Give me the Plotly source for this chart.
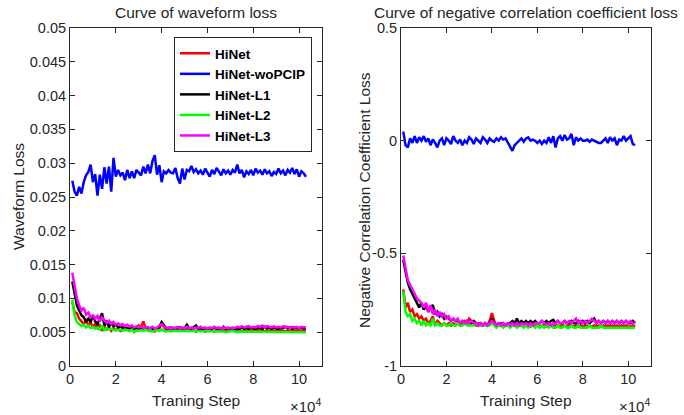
import plotly.graph_objects as go

steps = [k * 1000 for k in range(1, 104)]

# ---- waveform loss (left) ----
wave_hinet = [
    0.0095, 0.0080, 0.0078, 0.0070, 0.0066, 0.0062, 0.0068, 0.0060, 0.0064, 0.0058,
    0.0062, 0.0056, 0.0060, 0.0052, 0.0058, 0.0054, 0.0057, 0.0052, 0.0056, 0.0053,
    0.0055, 0.0052, 0.0054, 0.0053, 0.0055, 0.0052, 0.0054, 0.0055, 0.0053, 0.0060,
    0.0058, 0.0066, 0.0056, 0.0054, 0.0052, 0.0055, 0.0051, 0.0054, 0.0056, 0.0062,
    0.0057, 0.0053, 0.0055, 0.0052, 0.0054, 0.0053, 0.0055, 0.0052, 0.0054, 0.0053,
    0.0055, 0.0052, 0.0054, 0.0053, 0.0051, 0.0054, 0.0052, 0.0053, 0.0051, 0.0053,
    0.0052, 0.0053, 0.0051, 0.0053, 0.0052, 0.0054, 0.0052, 0.0053, 0.0052, 0.0053,
    0.0052, 0.0054, 0.0052, 0.0053, 0.0051, 0.0053, 0.0052, 0.0053, 0.0052, 0.0054,
    0.0052, 0.0053, 0.0052, 0.0053, 0.0051, 0.0053, 0.0052, 0.0053, 0.0052, 0.0053,
    0.0052, 0.0053, 0.0052, 0.0051, 0.0053, 0.0052, 0.0053, 0.0052, 0.0053, 0.0052,
    0.0052, 0.0053, 0.0052]
wave_wopcip = [
    0.0274, 0.0258, 0.0252, 0.0265, 0.0255, 0.0272, 0.0282, 0.0287, 0.0298, 0.0272,
    0.0284, 0.0252, 0.0283, 0.0262, 0.0294, 0.0270, 0.0295, 0.0258, 0.0308, 0.0280,
    0.0290, 0.0282, 0.0286, 0.0275, 0.0290, 0.0278, 0.0288, 0.0278, 0.0290, 0.0286,
    0.0282, 0.0295, 0.0285, 0.0298, 0.0285, 0.0303, 0.0312, 0.0283, 0.0297, 0.0272,
    0.0288, 0.0285, 0.0290, 0.0286, 0.0285, 0.0293, 0.0278, 0.0270, 0.0292, 0.0276,
    0.0290, 0.0288, 0.0296, 0.0287, 0.0291, 0.0285, 0.0289, 0.0283, 0.0292, 0.0286,
    0.0280, 0.0290, 0.0284, 0.0293, 0.0287, 0.0282, 0.0291, 0.0285, 0.0289, 0.0283,
    0.0290, 0.0286, 0.0298, 0.0285, 0.0290, 0.0279, 0.0288, 0.0284, 0.0290, 0.0282,
    0.0292, 0.0286, 0.0289, 0.0283, 0.0291, 0.0285, 0.0288, 0.0281, 0.0287, 0.0284,
    0.0292, 0.0285, 0.0289, 0.0282, 0.0290, 0.0286, 0.0293, 0.0284, 0.0291, 0.0280,
    0.0288, 0.0285, 0.0280]
wave_l1 = [
    0.0125, 0.0105, 0.0090, 0.0082, 0.0075, 0.0072, 0.0066, 0.0070, 0.0065, 0.0075,
    0.0066, 0.0062, 0.0070, 0.0078, 0.0060, 0.0065, 0.0058, 0.0063, 0.0059, 0.0061,
    0.0057, 0.0059, 0.0056, 0.0058, 0.0055, 0.0057, 0.0056, 0.0055, 0.0057, 0.0054,
    0.0056, 0.0055, 0.0054, 0.0057, 0.0053, 0.0055, 0.0054, 0.0056, 0.0058, 0.0065,
    0.0060, 0.0056, 0.0055, 0.0057, 0.0054, 0.0056, 0.0055, 0.0057, 0.0055, 0.0056,
    0.0061, 0.0056, 0.0055, 0.0057, 0.0060, 0.0055, 0.0056, 0.0054, 0.0056, 0.0055,
    0.0056, 0.0055, 0.0057, 0.0055, 0.0056, 0.0054, 0.0058, 0.0055, 0.0056, 0.0055,
    0.0056, 0.0054, 0.0056, 0.0055, 0.0057, 0.0055, 0.0056, 0.0055, 0.0057, 0.0056,
    0.0055, 0.0057, 0.0056, 0.0055, 0.0058, 0.0056, 0.0057, 0.0055, 0.0057, 0.0056,
    0.0055, 0.0057, 0.0056, 0.0058, 0.0056, 0.0057, 0.0055, 0.0056, 0.0057, 0.0056,
    0.0057, 0.0056, 0.0056]
wave_l2 = [
    0.0098, 0.0075, 0.0065, 0.0062, 0.0059, 0.0061, 0.0057, 0.0060, 0.0056, 0.0058,
    0.0055, 0.0057, 0.0054, 0.0060, 0.0053, 0.0056, 0.0054, 0.0055, 0.0053, 0.0054,
    0.0053, 0.0054, 0.0052, 0.0054, 0.0053, 0.0052, 0.0054, 0.0050, 0.0053, 0.0052,
    0.0053, 0.0052, 0.0054, 0.0052, 0.0053, 0.0051, 0.0052, 0.0053, 0.0052, 0.0054,
    0.0052, 0.0051, 0.0052, 0.0051, 0.0052, 0.0052, 0.0051, 0.0052, 0.0051, 0.0052,
    0.0051, 0.0052, 0.0051, 0.0052, 0.0051, 0.0051, 0.0052, 0.0051, 0.0052, 0.0051,
    0.0051, 0.0052, 0.0051, 0.0051, 0.0052, 0.0051, 0.0051, 0.0050, 0.0051, 0.0051,
    0.0052, 0.0051, 0.0050, 0.0051, 0.0051, 0.0050, 0.0051, 0.0051, 0.0050, 0.0051,
    0.0050, 0.0051, 0.0050, 0.0051, 0.0050, 0.0051, 0.0050, 0.0050, 0.0051, 0.0050,
    0.0050, 0.0051, 0.0050, 0.0050, 0.0051, 0.0050, 0.0050, 0.0051, 0.0050, 0.0050,
    0.0050, 0.0050, 0.0050]
wave_l3 = [
    0.0138, 0.0118, 0.0100, 0.0090, 0.0082, 0.0086, 0.0076, 0.0079, 0.0072, 0.0075,
    0.0070, 0.0074, 0.0066, 0.0072, 0.0068, 0.0064, 0.0067, 0.0062, 0.0065, 0.0061,
    0.0063, 0.0060, 0.0062, 0.0059, 0.0061, 0.0058, 0.0060, 0.0057, 0.0059, 0.0057,
    0.0058, 0.0056, 0.0058, 0.0057, 0.0056, 0.0058, 0.0055, 0.0057, 0.0059, 0.0062,
    0.0058, 0.0056, 0.0057, 0.0055, 0.0057, 0.0056, 0.0058, 0.0055, 0.0057, 0.0056,
    0.0058, 0.0056, 0.0057, 0.0055, 0.0057, 0.0056, 0.0058, 0.0056, 0.0057, 0.0055,
    0.0057, 0.0056, 0.0058, 0.0056, 0.0057, 0.0055, 0.0057, 0.0056, 0.0057, 0.0056,
    0.0057, 0.0056, 0.0058, 0.0057, 0.0059, 0.0057, 0.0058, 0.0059, 0.0057, 0.0058,
    0.0057, 0.0059, 0.0058, 0.0060, 0.0057, 0.0059, 0.0058, 0.0057, 0.0059, 0.0057,
    0.0058, 0.0057, 0.0059, 0.0057, 0.0058, 0.0056, 0.0058, 0.0057, 0.0058, 0.0056,
    0.0058, 0.0057, 0.0057]

# ---- negative correlation coefficient loss (right) ----
corr_hinet = [
    -0.66, -0.74, -0.72, -0.76, -0.75, -0.78, -0.77, -0.79, -0.78, -0.80,
    -0.79, -0.81, -0.80, -0.78, -0.82, -0.80, -0.81, -0.82, -0.81, -0.82,
    -0.81, -0.82, -0.81, -0.82, -0.81, -0.82, -0.81, -0.80, -0.81, -0.79,
    -0.80, -0.81, -0.82, -0.81, -0.82, -0.82, -0.81, -0.82, -0.80, -0.765,
    -0.80, -0.82, -0.82, -0.81, -0.82, -0.82, -0.82, -0.81, -0.82, -0.82,
    -0.82, -0.82, -0.82, -0.81, -0.82, -0.82, -0.825, -0.82, -0.82, -0.82,
    -0.825, -0.82, -0.82, -0.825, -0.82, -0.82, -0.825, -0.82, -0.82, -0.825,
    -0.82, -0.82, -0.825, -0.82, -0.82, -0.825, -0.82, -0.825, -0.82, -0.825,
    -0.82, -0.825, -0.82, -0.825, -0.82, -0.825, -0.82, -0.825, -0.82, -0.825,
    -0.82, -0.825, -0.82, -0.825, -0.82, -0.825, -0.82, -0.825, -0.82, -0.825,
    -0.825, -0.82, -0.825]
corr_wopcip = [
    0.04, -0.02, -0.03, 0.01, -0.01, 0.02, -0.01, 0.015, 0.0, 0.02,
    -0.005, 0.01, -0.02, 0.005, -0.01, -0.03, 0.0, 0.01, -0.02, 0.01,
    0.0, -0.015, 0.02, 0.0, -0.01, 0.005, -0.02, 0.0, -0.01, 0.015,
    0.005, -0.015, 0.01, 0.0, -0.01, 0.015, 0.005, -0.01, 0.01, 0.0,
    -0.005, 0.01, 0.0, 0.015, 0.005, 0.01, -0.01, -0.025, -0.045, -0.02,
    -0.01, 0.0, 0.01, -0.005, 0.01, 0.015, 0.0, 0.005, 0.0, -0.01,
    0.0, -0.015, 0.0, -0.01, 0.015, -0.01, 0.02, -0.03, 0.01, 0.02,
    0.0, 0.025, 0.005, 0.01, 0.03, -0.02, 0.015, 0.0, 0.01, 0.0,
    0.0, 0.005, -0.005, 0.005, 0.0, -0.005, -0.01, -0.01, 0.0, 0.01,
    -0.01, 0.015, 0.0, 0.01, -0.02, 0.005, 0.0, 0.02, 0.0, 0.01,
    0.02, -0.015, -0.02]
corr_l1 = [
    -0.53, -0.58, -0.63, -0.66, -0.68, -0.70, -0.72, -0.74, -0.72, -0.75,
    -0.73, -0.76, -0.74, -0.73, -0.77, -0.76, -0.78, -0.77, -0.79, -0.78,
    -0.79, -0.80, -0.79, -0.80, -0.80, -0.81, -0.80, -0.81, -0.80, -0.81,
    -0.81, -0.80, -0.81, -0.82, -0.81, -0.82, -0.81, -0.82, -0.81, -0.79,
    -0.81, -0.82, -0.81, -0.82, -0.81, -0.82, -0.81, -0.81, -0.80, -0.81,
    -0.79, -0.81, -0.80, -0.81, -0.80, -0.81, -0.80, -0.81, -0.80, -0.81,
    -0.81, -0.80, -0.81, -0.80, -0.81, -0.80, -0.795, -0.81, -0.80, -0.81,
    -0.81, -0.80, -0.81, -0.81, -0.80, -0.81, -0.81, -0.80, -0.81, -0.80,
    -0.81, -0.80, -0.81, -0.80, -0.79, -0.81, -0.80, -0.81, -0.80, -0.81,
    -0.80, -0.81, -0.80, -0.81, -0.80, -0.81, -0.80, -0.81, -0.80, -0.81,
    -0.81, -0.80, -0.81]
corr_l2 = [
    -0.67, -0.76, -0.78, -0.77, -0.80, -0.79, -0.81, -0.80, -0.82, -0.80,
    -0.82, -0.81, -0.82, -0.79, -0.82, -0.81, -0.82, -0.82, -0.81, -0.82,
    -0.82, -0.81, -0.82, -0.82, -0.81, -0.82, -0.82, -0.81, -0.82, -0.82,
    -0.82, -0.82, -0.81, -0.82, -0.82, -0.82, -0.82, -0.82, -0.82, -0.81,
    -0.82, -0.83, -0.82, -0.82, -0.83, -0.82, -0.82, -0.83, -0.82, -0.82,
    -0.83, -0.82, -0.82, -0.83, -0.82, -0.83, -0.82, -0.82, -0.83, -0.82,
    -0.83, -0.82, -0.83, -0.82, -0.83, -0.82, -0.83, -0.83, -0.82, -0.83,
    -0.83, -0.82, -0.83, -0.83, -0.82, -0.83, -0.83, -0.82, -0.83, -0.83,
    -0.83, -0.83, -0.82, -0.83, -0.83, -0.83, -0.83, -0.82, -0.83, -0.83,
    -0.83, -0.83, -0.83, -0.83, -0.83, -0.83, -0.83, -0.83, -0.83, -0.83,
    -0.83, -0.83, -0.83]
corr_l3 = [
    -0.51, -0.56, -0.62, -0.64, -0.66, -0.68, -0.70, -0.71, -0.72, -0.74,
    -0.72, -0.76, -0.73, -0.77, -0.75, -0.78, -0.76, -0.78, -0.77, -0.79,
    -0.78, -0.80, -0.79, -0.80, -0.79, -0.81, -0.80, -0.81, -0.80, -0.81,
    -0.80, -0.81, -0.81, -0.82, -0.81, -0.82, -0.81, -0.82, -0.81, -0.80,
    -0.81, -0.82, -0.81, -0.82, -0.81, -0.82, -0.81, -0.82, -0.81, -0.82,
    -0.81, -0.82, -0.81, -0.815, -0.81, -0.82, -0.81, -0.82, -0.81, -0.81,
    -0.81, -0.80, -0.81, -0.815, -0.81, -0.82, -0.81, -0.81, -0.80, -0.81,
    -0.81, -0.80, -0.81, -0.80, -0.81, -0.80, -0.79, -0.81, -0.80, -0.81,
    -0.80, -0.81, -0.80, -0.79, -0.80, -0.81, -0.80, -0.81, -0.80, -0.81,
    -0.80, -0.81, -0.80, -0.81, -0.80, -0.81, -0.80, -0.81, -0.80, -0.81,
    -0.80, -0.81, -0.81]

series_names = ["HiNet", "HiNet-woPCIP", "HiNet-L1", "HiNet-L2", "HiNet-L3"]
series_colors = ["#ff0000", "#0000ff", "#000000", "#00ff00", "#ff00ff"]
wave_series = [wave_hinet, wave_wopcip, wave_l1, wave_l2, wave_l3]
corr_series = [corr_hinet, corr_wopcip, corr_l1, corr_l2, corr_l3]

x_tick_vals = [0, 20000, 40000, 60000, 80000, 100000]
x_tick_text = ["0", "2", "4", "6", "8", "10"]
wave_tick_vals = [0, 0.005, 0.01, 0.015, 0.02, 0.025, 0.03, 0.035, 0.04, 0.045, 0.05]
wave_tick_text = ["0", "0.005", "0.01", "0.015", "0.02", "0.025", "0.03", "0.035", "0.04", "0.045", "0.05"]
corr_tick_vals = [-1, -0.5, 0, 0.5]
corr_tick_text = ["-1", "-0.5", "0", "0.5"]

FONT = "Liberation Sans, Arial, sans-serif"
TXT = "#262626"
W, H = 684, 415

fig = go.Figure()
for name, color, ys in zip(series_names, series_colors, wave_series):
    fig.add_trace(go.Scatter(x=steps, y=ys, mode="lines", name=name,
                             line=dict(color=color, width=2.5),
                             xaxis="x", yaxis="y", legendgroup=name))
for name, color, ys in zip(series_names, series_colors, corr_series):
    fig.add_trace(go.Scatter(x=steps, y=ys, mode="lines", name=name,
                             line=dict(color=color, width=2.5), showlegend=False,
                             xaxis="x2", yaxis="y2", legendgroup=name))


def px(v):
    return v / W


def py(v):
    return 1 - v / H


axis_common = dict(showline=True, linecolor=TXT, linewidth=1, mirror="ticks",
                   ticks="inside", ticklen=5, tickcolor=TXT, showgrid=False,
                   zeroline=False, automargin=False,
                   tickfont=dict(family=FONT, size=14.5, color=TXT))

fig.update_layout(
    width=W, height=H,
    margin=dict(l=0, r=0, t=0, b=0, autoexpand=False),
    paper_bgcolor="white", plot_bgcolor="white",
    font=dict(family=FONT, color=TXT),
    xaxis=dict(domain=[px(70), px(322)], range=[0, 110000], anchor="y",
               tickvals=x_tick_vals, ticktext=x_tick_text, **axis_common),
    yaxis=dict(domain=[py(366), py(28)], range=[0, 0.05], anchor="x",
               tickvals=wave_tick_vals, ticktext=wave_tick_text, **axis_common),
    xaxis2=dict(domain=[px(401), px(651)], range=[0, 110000], anchor="y2",
                tickvals=x_tick_vals, ticktext=x_tick_text, **axis_common),
    yaxis2=dict(domain=[py(366), py(28)], range=[-1, 0.5], anchor="x2",
                tickvals=corr_tick_vals, ticktext=corr_tick_text, **axis_common),
    legend=dict(x=px(312), xanchor="right", y=py(37), yanchor="top",
                bgcolor="white", bordercolor=TXT, borderwidth=1,
                font=dict(family=FONT, size=13.5, color="#000000", weight="bold"),
                tracegroupgap=0, itemwidth=30),
    showlegend=True,
)

ann = [
    dict(text="Curve of waveform loss", x=px(196), y=py(12), font=dict(size=15.5)),
    dict(text="Curve of negative correlation coefficient loss", x=px(526), y=py(12), font=dict(size=15.5)),
    dict(text="Traning Step", x=px(196), y=py(400), font=dict(size=15.5)),
    dict(text="Training Step", x=px(526), y=py(400), font=dict(size=15.5)),
    dict(text="×10<sup>4</sup>", x=px(323), y=py(405), xanchor="right", font=dict(size=15)),
    dict(text="×10<sup>4</sup>", x=px(652), y=py(405), xanchor="right", font=dict(size=15)),
    dict(text="Waveform Loss", x=px(18), y=py(197), textangle=-90, font=dict(size=15.5)),
    dict(text="Negative Correlation Coefficient Loss", x=px(364), y=py(200), textangle=-90, font=dict(size=15.5)),
]
for a in ann:
    a.setdefault("xanchor", "center")
    a.update(xref="paper", yref="paper", showarrow=False, yanchor="middle")
    a["font"].update(family=FONT, color=TXT)
fig.update_layout(annotations=ann)

fig.write_html("out.html", config={"displayModeBar": False},
               post_script="document.body.style.margin='0';")
